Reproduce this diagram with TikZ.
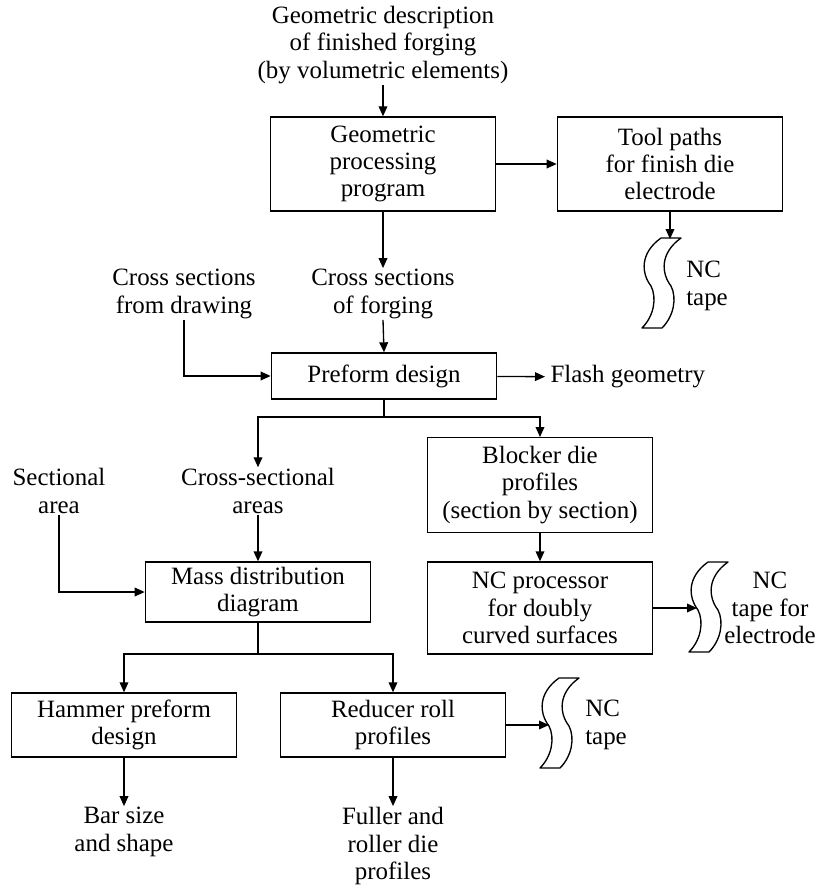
\documentclass[tikz,border=0pt]{standalone}
\usepackage{fontspec}
\setmainfont{Liberation Serif}
\usetikzlibrary{arrows.meta}

\begin{document}
\begin{tikzpicture}[x=0.75pt,y=0.75pt,yscale=-1,xscale=1,
  every node/.style={font=\fontsize{18.7}{20.5}\selectfont, inner sep=0.75pt},
  box/.style={draw, line width=1pt, align=center, minimum width=169pt},
  lbl/.style={align=center},
  arr/.style={line width=1pt, -{Triangle[length=7.5pt,width=6.5pt]}},
  ln/.style={line width=1pt}]
\useasboundingbox (0,0) rectangle (815,888);

% Boxes
\node[box, minimum height=70.5pt] (geom) at (383,164) {Geometric\\processing\\program};
\node[box, minimum height=70.5pt] (tool) at (670,164) {Tool paths\\for finish die\\electrode};
\node[box, minimum height=34.5pt] (preform) at (384,376) {Preform design};
\node[box, minimum height=71pt] (blocker) at (540,485) {Blocker die\\profiles\\(section by section)};
\node[box, minimum height=69pt] (ncproc) at (540,608) {NC processor\\for doubly\\curved surfaces};
\node[box, minimum height=45pt] (mass) at (258,592) {Mass distribution\\diagram};
\node[box, minimum height=48pt] (hammer) at (124,725) {Hammer preform\\design};
\node[box, minimum height=48pt] (reducer) at (393,725) {Reducer roll\\profiles};

% Text Nodes
\node[lbl] (topdesc) at (383,45) {Geometric description\\of finished forging\\(by volumetric elements)};
\node[lbl] (crossfrom) at (184,294) {Cross sections\\from drawing};
\node[lbl] (crossof) at (383,294) {Cross sections\\of forging};
\node[anchor=west, inner sep=4pt] (flash) at (545,377) {Flash geometry};
\node[lbl] (secarea) at (59,491) {Sectional\\area};
\node[lbl] (crossareas) at (258,491) {Cross-sectional\\areas};
\node[lbl] (barsize) at (124,832) {Bar size\\and shape};
\node[lbl] (fuller) at (393,846) {Fuller and\\roller die\\profiles};
\node[anchor=west, align=left] (nctapeA) at (685,286) {NC\\tape};
\node[lbl] (nctapeB) at (770,608) {NC\\tape for\\electrode};
\node[anchor=west, align=left] (nctapeC) at (584,725) {NC\\tape};

% Tapes
\foreach \tx/\ty in {642/328, 689/652, 540/768} {
  \draw[line width=1pt, line join=round] (\tx+19,\ty-90) -- (\tx+39,\ty-90)
    .. controls (\tx+18,\ty-75) and (\tx+19,\ty-55) .. (\tx+29,\ty-42)
    .. controls (\tx+35,\ty-30) and (\tx+32,\ty-12) .. (\tx+20,\ty) -- (\tx,\ty)
    .. controls (\tx+12,\ty-12) and (\tx+15,\ty-30) .. (\tx+9,\ty-42)
    .. controls (\tx-1,\ty-55) and (\tx-2,\ty-75) .. cycle;
}
\coordinate (tapeA) at (670,239);
\coordinate (tapeB) at (697,608);
\coordinate (tapeC) at (549,725);
\coordinate (splitA) at (384,417);
\coordinate (splitB) at (258,654);

% Connectors
\draw[arr] (topdesc.south) -- (geom.north);
\draw[arr] (geom) -- (tool);
\draw[arr] (tool.south) -- (tapeA);
\draw[arr] (geom.south) -- (crossof.north);
\draw[arr] (crossof.south) -- (preform.north);
\draw[arr] (crossfrom.south) |- (preform.west);
\draw[arr] (preform) -- (flash);
\draw[ln] (preform.south) -- (splitA);
\draw[arr] (splitA) -| (crossareas.north);
\draw[arr] (splitA) -| (blocker.north);
\draw[arr] (crossareas.south) -- (mass.north);
\draw[arr] (secarea.south) |- (mass.west);
\draw[arr] (blocker.south) -- (ncproc.north);
\draw[arr] (ncproc.east) -- (tapeB);
\draw[ln] (mass.south) -- (splitB);
\draw[arr] (splitB) -| (hammer.north);
\draw[arr] (splitB) -| (reducer.north);
\draw[arr] (reducer.east) -- (tapeC);
\draw[arr] (hammer.south) -- (barsize.north);
\draw[arr] (reducer.south) -- (fuller.north);

\end{tikzpicture}
\end{document}
